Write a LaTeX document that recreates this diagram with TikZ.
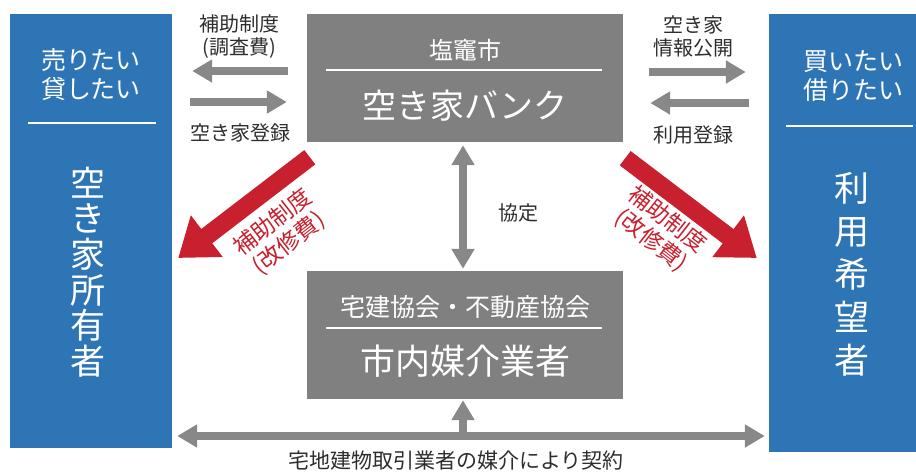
\documentclass[tikz,border=0pt]{standalone}
\usepackage{fontspec}
\setmainfont{Noto Sans CJK JP}
\usepackage{tikz}
\usetikzlibrary{arrows.meta,positioning,calc}

\definecolor{bankgray}{RGB}{128,128,128}
\definecolor{arrowgray}{RGB}{136,136,136}
\definecolor{userblue}{RGB}{46,117,182}
\definecolor{subsidyred}{RGB}{200,32,46}
\definecolor{labelgray}{RGB}{45,45,45}
\newcommand{\sizefont}[2]{\fontsize{#1}{#2}\selectfont}

\begin{document}
\begin{tikzpicture}[
    x=1pt, y=-1pt,
    userbox/.style={rectangle, fill=userblue, draw=none, inner sep=0pt},
    grbox/.style={rectangle, fill=bankgray, draw=none, inner sep=0pt},
    wtext/.style={text=white, inner sep=0pt, align=center},
    lbl/.style={text=labelgray, inner sep=0pt, align=center, font=\sizefont{20}{23}},
    rlbl/.style={text=subsidyred, inner sep=0pt, align=center, font=\sizefont{23}{26}},
    divider/.style={white, line width=1.4pt},
    garrow/.style={arrowgray, line width=8pt, -{Triangle[length=20pt,width=22pt]}},
    gdarrow/.style={arrowgray, line width=8pt, {Triangle[length=20pt,width=22pt]}-{Triangle[length=20pt,width=22pt]}},
    rarrow/.style={subsidyred, line width=18pt, -{Triangle[length=36pt,width=50pt]}}
  ]
    \useasboundingbox (0,0) rectangle (916,475);
    \clip (0,0) rectangle (916,475);

    % owners and users
    \node[userbox, minimum width=162pt, minimum height=434pt] (seller) at (91,231) {};
    \node[userbox, minimum width=164pt, minimum height=438pt] (buyer) at (851,233) {};
    \node[wtext, font=\sizefont{25}{29}] (sellwish) at (91,75) {売りたい\\貸したい};
    \node[wtext, font=\sizefont{25}{29}] (buywish) at (853,76) {買いたい\\借りたい};
    \draw[divider] (28,123) -- (156,123);
    \draw[divider] (786,126) -- (913,126);
    \node[wtext, font=\sizefont{35}{35.6}] (sellname) at (88,272) {空\\き\\家\\所\\有\\者};
    \node[wtext, font=\sizefont{35}{43}] (buyname) at (852,274) {利\\用\\希\\望\\者};

    % city bank and brokers
    \node[grbox, minimum width=316pt, minimum height=128pt] (bank) at (465,78) {};
    \node[wtext, font=\sizefont{24}{28}] (bankcity) at (465,50) {塩竈市};
    \draw[divider] (326,70) -- (602,70);
    \node[wtext, font=\sizefont{34}{38}] (bankname) at (465,106) {空き家バンク};

    \node[grbox, minimum width=316pt, minimum height=128pt] (broker) at (465,335) {};
    \node[wtext, font=\sizefont{25}{29}] (brokerassoc) at (465,307) {宅建協会・不動産協会};
    \draw[divider] (326,328) -- (602,328);
    \node[wtext, font=\sizefont{35}{39}] (brokername) at (465,361) {市内媒介業者};

    % bank <-> seller
    \draw[garrow, shorten <=19pt, shorten >=20pt] ([yshift=7pt]bank.west) -- ([yshift=7pt]bank.west -| seller.east);
    \draw[garrow, shorten <=18pt, shorten >=20pt] ([yshift=-24pt]bank.west -| seller.east) -- ([yshift=-24pt]bank.west);
    \node[lbl] (survey) at (239,37) {補助制度\\(調査費)};
    \node[lbl] (sellreg) at (240,133) {空き家登録};

    % bank <-> buyer
    \draw[garrow, shorten <=26pt, shorten >=23pt] ([yshift=6pt]bank.east) -- ([yshift=6pt]bank.east -| buyer.west);
    \draw[garrow, shorten <=20pt, shorten >=27pt] ([yshift=-25pt]bank.east -| buyer.west) -- ([yshift=-25pt]bank.east);
    \node[lbl] (publish) at (693,36) {空き家\\情報公開};
    \node[lbl] (usereg) at (693,135) {利用登録};

    % agreement
    \draw[gdarrow, shorten <=3pt, shorten >=2pt] ([xshift=-2pt]bank.south) -- ([xshift=-2pt]broker.north);
    \node[lbl] (accord) at (518,213) {協定};

    % renovation subsidy
    \draw[rarrow] ([shift={(3,15)}]bank.south west) -- ([shift={(6,27)}]seller.east);
    \draw[rarrow] ([shift={(2,16)}]bank.south east) -- ([shift={(-12,25)}]buyer.west);
    \node[rlbl, rotate=38] (renoleft) at (281,233) {補助制度\\(改修費)};
    \node[rlbl, rotate=-38] (renoright) at (659,230) {補助制度\\(改修費)};

    % contract via broker
    \coordinate (contract) at (463,436);
    \draw[gdarrow, shorten <=5pt, shorten >=4pt] (seller.east |- contract) -- (buyer.west |- contract);
    \draw[garrow, shorten >=1pt] (contract) -- (contract |- broker.south);
    \node[lbl, font=\sizefont{21}{24}] (contractlbl) at (456,461) {宅地建物取引業者の媒介により契約};
\end{tikzpicture}
\end{document}
